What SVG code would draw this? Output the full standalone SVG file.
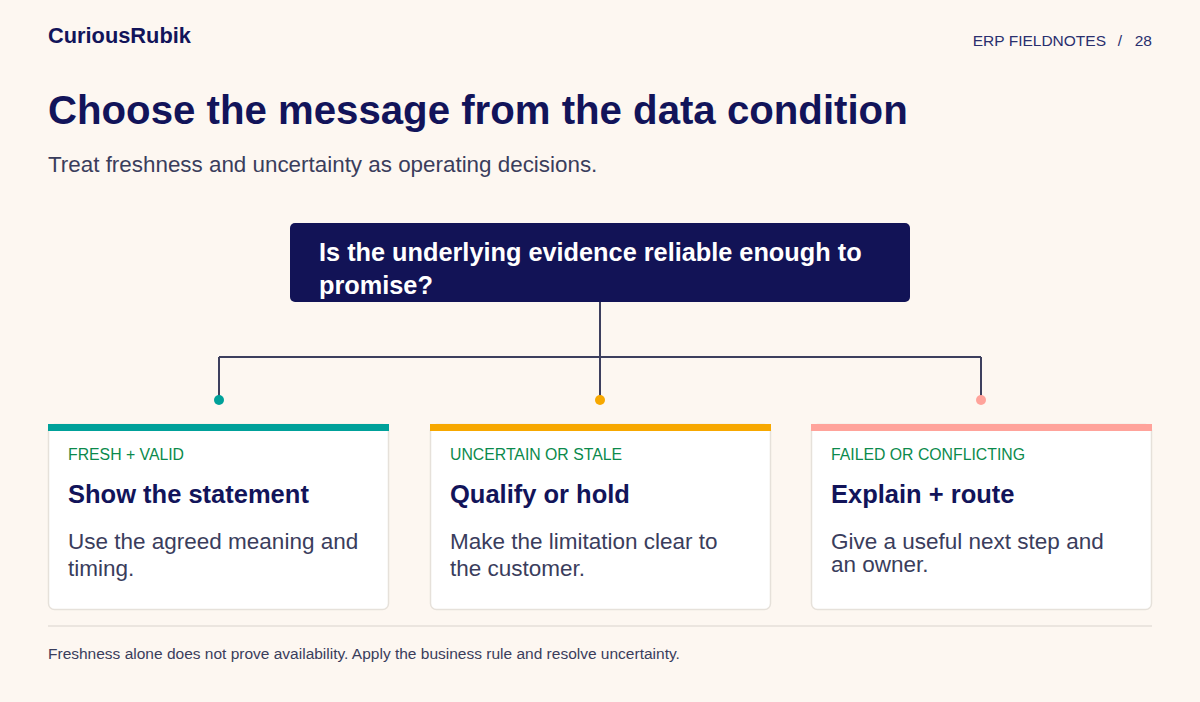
<svg xmlns="http://www.w3.org/2000/svg" width="1200" height="702" viewBox="0 0 1200 702">
<style>
text{font-family:"Liberation Sans",Arial,sans-serif}
.navy{fill:#12145a}
.muted{fill:#3a3d5c}
.lbl{font-size:15.8px;fill:#0b8a4c}
.head{font-size:25.5px;font-weight:bold;fill:#12145a}
.body{font-size:22.5px;fill:#3a3d5c}
.card{fill:#ffffff;stroke:#e6e1da;stroke-width:1.5}
.conn{fill:none;stroke:#3d3f5e;stroke-width:2}
.meta{font-size:15.5px;fill:#2a2f6e}
</style>
<rect width="1200" height="702" fill="#fdf7f1"/>
<g id="header">
<text x="48" y="43" font-size="21.8" font-weight="bold" class="navy">CuriousRubik</text>
<text x="1106" y="46" class="meta" text-anchor="end">ERP FIELDNOTES</text>
<text x="1120" y="46" class="meta" text-anchor="middle">/</text>
<text x="1152" y="46" class="meta" text-anchor="end">28</text>
<text x="48" y="124" font-size="40.2" font-weight="bold" class="navy">Choose the message from the data condition</text>
<text x="48" y="172" font-size="22.4" class="muted">Treat freshness and uncertainty as operating decisions.</text>
</g>
<g id="connectors">
<path class="conn" d="M600 302V357M219 357H981M219 357V400M600 357V400M981 357V400"/>
<circle cx="219" cy="400" r="5" fill="#00a19a"/>
<circle cx="600" cy="400" r="5" fill="#f7a800"/>
<circle cx="981" cy="400" r="5" fill="#ffa39b"/>
</g>
<g id="question">
<rect x="290" y="223" width="620" height="79" rx="5" fill="#121356"/>
<text x="319" y="261" font-size="25.3" font-weight="bold" fill="#ffffff">Is the underlying evidence reliable enough to</text>
<text x="319" y="294" font-size="25.3" font-weight="bold" fill="#ffffff">promise?</text>
</g>
<g id="card-fresh">
<rect class="card" x="48.5" y="424.5" width="340" height="185" rx="6"/>
<rect x="48" y="424" width="341" height="7" fill="#00a19a"/>
<text x="68" y="460" class="lbl">FRESH + VALID</text>
<text x="68" y="503" class="head">Show the statement</text>
<text x="68" y="549" class="body">Use the agreed meaning and</text>
<text x="68" y="576" class="body">timing.</text>
</g>
<g id="card-uncertain">
<rect class="card" x="430.5" y="424.5" width="340" height="185" rx="6"/>
<rect x="430" y="424" width="341" height="7" fill="#f7a800"/>
<text x="450" y="460" class="lbl">UNCERTAIN OR STALE</text>
<text x="450" y="503" class="head">Qualify or hold</text>
<text x="450" y="549" class="body">Make the limitation clear to</text>
<text x="450" y="576" class="body">the customer.</text>
</g>
<g id="card-failed">
<rect class="card" x="811.5" y="424.5" width="340" height="185" rx="6"/>
<rect x="811" y="424" width="341" height="7" fill="#ffa39b"/>
<text x="831" y="460" class="lbl">FAILED OR CONFLICTING</text>
<text x="831" y="503" class="head">Explain + route</text>
<text x="831" y="549" class="body">Give a useful next step and</text>
<text x="831" y="572" class="body">an owner.</text>
</g>
<g id="footer">
<line x1="48" y1="626" x2="1152" y2="626" stroke="#e4dfd8" stroke-width="1.5"/>
<text x="48" y="659" font-size="15.5" class="muted">Freshness alone does not prove availability. Apply the business rule and resolve uncertainty.</text>
</g>
</svg>
